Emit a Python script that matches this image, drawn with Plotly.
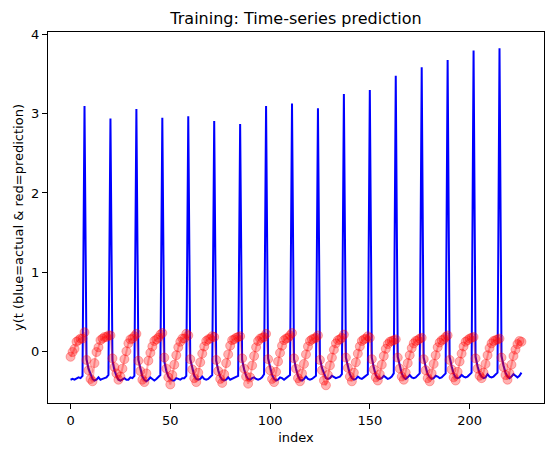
import plotly.graph_objects as go

# actual values (blue), one row per heartbeat-like cycle, spike first
actual = [
    -0.36, -0.35, -0.36, -0.35, -0.33, -0.34, -0.31,
    3.10, -0.10, -0.22, -0.30, -0.35, -0.37, -0.36, -0.33, -0.36, -0.35, -0.34, -0.33, -0.30,
    2.94, -0.12, -0.24, -0.31, -0.36, -0.37, -0.35, -0.34, -0.36, -0.36, -0.33, -0.34, -0.31,
    3.06, -0.11, -0.23, -0.32, -0.36, -0.38, -0.36, -0.33, -0.35, -0.37, -0.35, -0.33, -0.30,
    2.95, -0.13, -0.25, -0.32, -0.35, -0.37, -0.37, -0.34, -0.35, -0.36, -0.34, -0.34, -0.31,
    2.97, -0.10, -0.22, -0.31, -0.35, -0.36, -0.35, -0.32, -0.35, -0.36, -0.35, -0.33, -0.30,
    2.91, -0.12, -0.24, -0.32, -0.36, -0.37, -0.36, -0.33, -0.36, -0.35, -0.34, -0.32, -0.31,
    2.87, -0.11, -0.23, -0.31, -0.35, -0.36, -0.34, -0.33, -0.35, -0.36, -0.35, -0.33, -0.29,
    3.10, -0.09, -0.21, -0.30, -0.35, -0.37, -0.36, -0.33, -0.34, -0.36, -0.34, -0.32, -0.30,
    3.13, -0.10, -0.22, -0.31, -0.36, -0.37, -0.35, -0.32, -0.35, -0.36, -0.35, -0.33, -0.31,
    3.07, -0.09, -0.21, -0.29, -0.34, -0.35, -0.34, -0.31, -0.33, -0.34, -0.33, -0.32, -0.29,
    3.25, -0.08, -0.20, -0.29, -0.34, -0.36, -0.35, -0.32, -0.34, -0.35, -0.33, -0.31, -0.29,
    3.30, -0.08, -0.21, -0.30, -0.34, -0.35, -0.34, -0.31, -0.33, -0.35, -0.34, -0.32, -0.28,
    3.48, -0.07, -0.19, -0.28, -0.33, -0.35, -0.33, -0.30, -0.33, -0.34, -0.33, -0.31, -0.28,
    3.59, -0.08, -0.20, -0.29, -0.33, -0.35, -0.34, -0.31, -0.32, -0.34, -0.33, -0.30, -0.28,
    3.68, -0.07, -0.19, -0.28, -0.33, -0.34, -0.33, -0.30, -0.32, -0.33, -0.32, -0.30, -0.27,
    3.80, -0.07, -0.19, -0.28, -0.32, -0.34, -0.33, -0.29, -0.32, -0.33, -0.32, -0.30, -0.27,
    3.83, -0.06, -0.18, -0.27, -0.32, -0.34, -0.32, -0.29, -0.31, -0.33, -0.31, -0.27,
]

# predicted values (red)
predicted = [
    -0.07, -0.01, 0.03, 0.12, 0.14, 0.16, 0.16,
    0.24, -0.11, -0.24, -0.35, -0.38, -0.15, -0.01, 0.05, 0.14, 0.16, 0.18, 0.18, 0.20,
    0.20, -0.09, -0.20, -0.28, -0.36, -0.32, -0.22, -0.10, 0.00, 0.10, 0.15, 0.16, 0.19,
    0.22, -0.12, -0.25, -0.36, -0.39, -0.28, -0.12, -0.02, 0.06, 0.13, 0.15, 0.17, 0.21,
    0.23, -0.08, -0.22, -0.33, -0.42, -0.30, -0.17, -0.05, 0.05, 0.12, 0.16, 0.16, 0.22,
    0.20, -0.10, -0.23, -0.34, -0.39, -0.27, -0.14, -0.03, 0.06, 0.13, 0.15, 0.16, 0.19,
    0.18, -0.11, -0.25, -0.35, -0.40, -0.29, -0.15, -0.04, 0.07, 0.14, 0.15, 0.17, 0.18,
    0.19, -0.09, -0.22, -0.32, -0.41, -0.33, -0.18, -0.06, 0.05, 0.13, 0.16, 0.17, 0.18,
    0.22, -0.10, -0.24, -0.35, -0.39, -0.26, -0.13, -0.02, 0.07, 0.14, 0.16, 0.17, 0.20,
    0.23, -0.09, -0.22, -0.34, -0.38, -0.28, -0.16, -0.04, 0.06, 0.13, 0.15, 0.16, 0.17,
    0.20, -0.11, -0.24, -0.37, -0.43, -0.30, -0.18, -0.08, 0.02, 0.10, 0.14, 0.15, 0.17,
    0.21, -0.08, -0.21, -0.32, -0.38, -0.27, -0.14, -0.03, 0.06, 0.13, 0.15, 0.16, 0.19,
    0.17, -0.10, -0.23, -0.33, -0.37, -0.29, -0.17, -0.06, 0.03, 0.09, 0.12, 0.13, 0.14,
    0.15, -0.08, -0.22, -0.32, -0.36, -0.27, -0.15, -0.05, 0.04, 0.10, 0.13, 0.14, 0.16,
    0.17, -0.10, -0.24, -0.34, -0.38, -0.28, -0.16, -0.05, 0.05, 0.11, 0.14, 0.15, 0.18,
    0.20, -0.11, -0.23, -0.33, -0.37, -0.26, -0.13, -0.03, 0.06, 0.12, 0.14, 0.16, 0.17,
    0.18, -0.09, -0.22, -0.31, -0.34, -0.27, -0.16, -0.05, 0.04, 0.10, 0.13, 0.14, 0.15,
    0.16, -0.08, -0.20, -0.30, -0.36, -0.28, -0.17, -0.06, 0.02, 0.09, 0.13, 0.12,
]

index = list(range(len(actual)))

x_ticks = [0, 50, 100, 150, 200]
y_ticks = [0, 1, 2, 3, 4]

fig = go.Figure()
fig.add_trace(go.Scatter(x=index, y=actual, mode='lines',
                         line=dict(color='blue', width=2)))
fig.add_trace(go.Scatter(x=index, y=predicted, mode='lines+markers',
                         line=dict(color='rgba(255,0,0,0.3)', width=2),
                         marker=dict(size=9, color='rgba(255,0,0,0.3)',
                                     line=dict(color='rgba(255,0,0,0.3)', width=1))))

axis_style = dict(showline=True, linecolor='black', linewidth=1, mirror=True,
                  ticks='outside', ticklen=5, tickcolor='black', showgrid=False,
                  zeroline=False, tickfont=dict(size=13, color='black'))

# page body adds ~8px around the figure, so size and margins allow for it
fig.update_layout(
    width=546, height=447,
    margin=dict(l=40, r=10, t=24, b=52),
    paper_bgcolor='white', plot_bgcolor='white',
    font=dict(family='DejaVu Sans', color='black'),
    showlegend=False,
    title=dict(text='Training: Time-series prediction', x=0.5, xref='paper',
               y=1 - 10 / 447, yref='container', yanchor='middle',
               font=dict(size=16, color='black')),
    xaxis=dict(range=[-11.3, 237.3], tickvals=x_ticks,
               title=dict(text='index', font=dict(size=13), standoff=6), **axis_style),
    yaxis=dict(range=[-0.654, 4.034], tickvals=y_ticks,
               title=dict(text='y(t (blue=actual & red=prediction)', font=dict(size=13), standoff=4),
               **axis_style),
)

fig.write_html("out.html")
